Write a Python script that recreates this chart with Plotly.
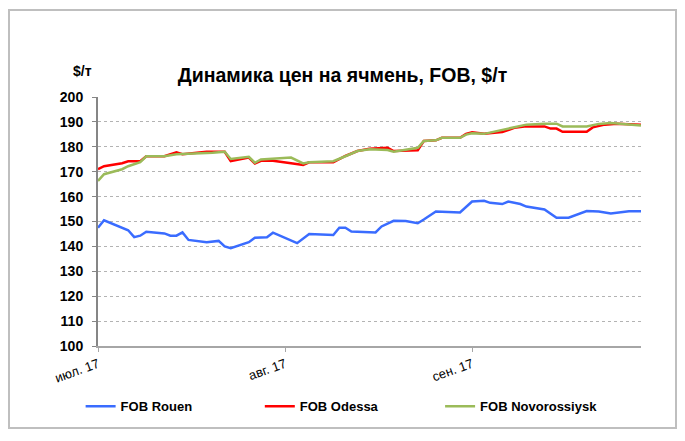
import plotly.graph_objects as go

# FOB Rouen, $/t
rouen_dates = [
    "2017-07-01", "2017-07-02", "2017-07-06", "2017-07-07", "2017-07-08", "2017-07-09",
    "2017-07-12", "2017-07-13", "2017-07-14", "2017-07-15", "2017-07-16", "2017-07-19",
    "2017-07-21", "2017-07-22", "2017-07-23", "2017-07-26", "2017-07-27", "2017-07-29",
    "2017-07-30", "2017-08-03", "2017-08-05", "2017-08-09", "2017-08-10", "2017-08-11",
    "2017-08-12", "2017-08-16", "2017-08-17", "2017-08-19", "2017-08-21", "2017-08-23",
    "2017-08-24", "2017-08-26", "2017-08-30", "2017-09-01", "2017-09-03", "2017-09-04",
    "2017-09-06", "2017-09-07", "2017-09-09", "2017-09-10", "2017-09-13", "2017-09-15",
    "2017-09-17", "2017-09-20", "2017-09-22", "2017-09-24", "2017-09-27", "2017-09-29",
]
rouen_prices = [
    147.5, 150.5, 146.5, 143.7, 144.3, 145.9,
    145.2, 144.3, 144.3, 145.6, 142.6, 141.7,
    142.2, 140.0, 139.3, 141.7, 143.5, 143.7,
    145.5, 141.3, 145.0, 144.6, 147.5, 147.5,
    146.0, 145.6, 148.0, 150.3, 150.2, 149.3,
    150.8, 154.0, 153.6, 158.0, 158.3, 157.5,
    157.0, 158.0, 157.0, 156.0, 154.8, 151.5,
    151.5, 154.2, 154.0, 153.2, 154.1, 154.1,
]

# FOB Odessa, $/t
odessa_dates = [
    "2017-07-01", "2017-07-02", "2017-07-05", "2017-07-06", "2017-07-08", "2017-07-09",
    "2017-07-12", "2017-07-14", "2017-07-15", "2017-07-19", "2017-07-22", "2017-07-23",
    "2017-07-26", "2017-07-27", "2017-07-28", "2017-07-30", "2017-08-02", "2017-08-04",
    "2017-08-05", "2017-08-09", "2017-08-11", "2017-08-13", "2017-08-15", "2017-08-18",
    "2017-08-19", "2017-08-23", "2017-08-24", "2017-08-26", "2017-08-27", "2017-08-30",
    "2017-08-31", "2017-09-01", "2017-09-03", "2017-09-06", "2017-09-08", "2017-09-10",
    "2017-09-13", "2017-09-14", "2017-09-15", "2017-09-16", "2017-09-20", "2017-09-21",
    "2017-09-23", "2017-09-25", "2017-09-29",
]
odessa_prices = [
    171.0, 172.2, 173.4, 174.2, 174.2, 176.2,
    176.2, 177.8, 177.0, 178.0, 178.0, 174.3,
    175.7, 173.3, 174.4, 174.4, 173.4, 172.7,
    173.8, 173.8, 176.3, 178.3, 179.2, 179.6,
    178.3, 178.6, 182.3, 182.6, 183.6, 183.6,
    185.2, 185.8, 185.2, 185.9, 187.6, 188.2,
    188.2, 187.3, 187.3, 186.0, 186.0, 187.8,
    188.9, 189.3, 188.9,
]

# FOB Novorossiysk, $/t
novo_dates = [
    "2017-07-01", "2017-07-02", "2017-07-05", "2017-07-06", "2017-07-08", "2017-07-09",
    "2017-07-12", "2017-07-14", "2017-07-20", "2017-07-22", "2017-07-23", "2017-07-26",
    "2017-07-27", "2017-07-28", "2017-08-02", "2017-08-04", "2017-08-05", "2017-08-09",
    "2017-08-11", "2017-08-13", "2017-08-15", "2017-08-18", "2017-08-19", "2017-08-23",
    "2017-08-24", "2017-08-26", "2017-08-27", "2017-08-30", "2017-08-31", "2017-09-01",
    "2017-09-03", "2017-09-06", "2017-09-08", "2017-09-10", "2017-09-13", "2017-09-15",
    "2017-09-16", "2017-09-20", "2017-09-22", "2017-09-24", "2017-09-26", "2017-09-29",
]
novo_prices = [
    166.3, 169.0, 171.0, 172.2, 173.8, 176.2,
    176.2, 177.0, 177.6, 178.0, 175.1, 176.0,
    173.6, 174.9, 175.7, 173.3, 173.8, 174.2,
    176.2, 178.3, 179.0, 178.7, 178.0, 179.6,
    182.3, 182.6, 183.6, 183.6, 184.9, 185.4,
    185.2, 186.9, 187.8, 188.9, 189.3, 189.3,
    188.2, 188.2, 189.2, 189.6, 189.2, 188.6,
]

tick_dates = ["2017-07-01", "2017-08-01", "2017-09-01"]
tick_labels = ["июл. 17", "авг. 17", "сен. 17"]

FONT = "Liberation Sans, Arial, sans-serif"

# the page puts the figure 8px in from the top-left corner
W, H = 669, 425
L, R, T, B = 90, 36, 89, 84
PW, PH = W - L - R, H - T - B


def legend_box(x):
    # one legend per series so each entry sits where the original has it
    return dict(orientation="h", x=x, xanchor="left", y=-0.242, yanchor="middle",
                font=dict(size=13, weight="bold"), itemclick=False, itemdoubleclick=False,
                bgcolor="rgba(0,0,0,0)")


fig = go.Figure()

fig.add_trace(go.Scatter(x=rouen_dates, y=rouen_prices, mode="lines", name="FOB Rouen",
                         line=dict(color="#3a6cff", width=2.5), legend="legend"))
fig.add_trace(go.Scatter(x=odessa_dates, y=odessa_prices, mode="lines", name="FOB Odessa",
                         line=dict(color="#ff0000", width=2.5), legend="legend2"))
fig.add_trace(go.Scatter(x=novo_dates, y=novo_prices, mode="lines", name="FOB Novorossiysk",
                         line=dict(color="#9bbb59", width=2.5), legend="legend3"))

fig.update_layout(
    width=W,
    height=H,
    margin=dict(l=L, r=R, t=T, b=B, pad=0),
    paper_bgcolor="white",
    plot_bgcolor="white",
    font=dict(family=FONT, color="black"),
    title=dict(
        text="<b>Динамика цен на ячмень, FOB, $/т</b>",
        x=0.5, xref="container", xanchor="center",
        y=1 - 67 / H, yref="container", yanchor="middle",
        font=dict(size=19.5, color="black"),
    ),
    showlegend=True,
    legend=legend_box(-0.032),
    legend2=legend_box(0.298),
    legend3=legend_box(0.630),
    xaxis=dict(
        type="date",
        range=["2017-07-01", "2017-09-29"],
        tickvals=tick_dates,
        ticktext=tick_labels,
        tickangle=-20,
        tickfont=dict(size=13),
        ticks="outside",
        ticklen=4,
        tickcolor="#a6a6a6",
        showgrid=False,
        showline=True,
        linecolor="#a6a6a6",
        linewidth=1.5,
        zeroline=False,
    ),
    yaxis=dict(
        range=[100, 200],
        dtick=10,
        tickfont=dict(size=14, weight="bold"),
        ticks="outside",
        ticklen=4,
        tickcolor="#868686",
        ticklabelstandoff=6,
        showgrid=True,
        gridcolor="#b3b3b3",
        griddash="dot",
        gridwidth=1,
        showline=True,
        linecolor="#868686",
        linewidth=2,
        zeroline=False,
    ),
    annotations=[
        dict(text="<b>$/т</b>", xref="paper", yref="paper", x=-16 / PW, y=1 + 26 / PH,
             xanchor="center", yanchor="middle", showarrow=False, font=dict(size=14)),
    ],
    shapes=[
        # outer chart frame
        dict(type="rect", xref="paper", yref="paper",
             x0=-(L - 1) / PW, x1=1 + (R - 1) / PW, y0=-(B - 1) / PH, y1=1 + (T - 1) / PH,
             line=dict(color="#bfbfbf", width=2), fillcolor="rgba(0,0,0,0)", layer="below"),
    ],
)

fig.write_html("out.html")
